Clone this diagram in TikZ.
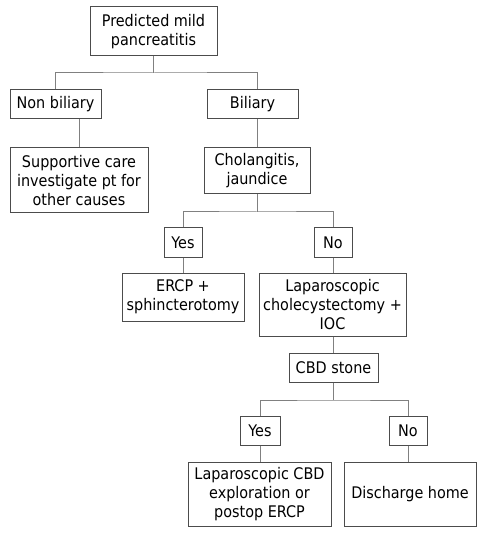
\documentclass[tikz,border=0pt]{standalone}
\usepackage{fontspec}
\setmainfont{DejaVu Sans Condensed}
\begin{document}
\begin{tikzpicture}[x=0.75pt,y=-0.75pt,
  box/.style={draw=black!70,line width=0.75pt,inner sep=0pt,align=center,
    font=\fontsize{12}{14.2}\selectfont,text=black},
  conn/.style={draw=black!50,line width=0.75pt}]
\useasboundingbox (0,0) rectangle (481,534);
\fill[white] (0,0) rectangle (481,534);
\newcommand{\bx}[6]{\node[box,minimum width=#4*0.75pt,minimum height=#5*0.75pt] (#1) at (#2,#3) {#6};}
\bx{top}{153.5}{31.5}{127}{49}{Predicted mild\\pancreatitis}
\bx{nonb}{55.5}{104.5}{91}{29}{Non biliary}
\bx{bil}{252.5}{104.5}{91}{29}{Biliary}
\bx{supp}{79}{180.5}{138}{65}{Supportive care\\investigate pt for\\other causes}
\bx{chol}{257}{171}{106}{46}{Cholangitis,\\jaundice}
\bx{yesa}{183}{242.5}{38}{29}{Yes}
\bx{noa}{333}{242.5}{38}{29}{No}
\bx{ercp}{183}{297}{122}{48}{ERCP +\\sphincterotomy}
\bx{lap}{332.5}{304.5}{147}{63}{Laparoscopic\\cholecystectomy +\\IOC}
\bx{cbd}{333.5}{367.5}{89}{29}{CBD stone}
\bx{yesb}{260}{430.5}{40}{29}{Yes}
\bx{nob}{408}{430.5}{38}{29}{No}
\bx{lcbd}{259.5}{494}{143}{64}{Laparoscopic CBD\\exploration or\\postop ERCP}
\bx{dis}{410}{494}{132}{64}{Discharge home}
\coordinate (ja) at (153.5,73);
\coordinate (jb) at (257,212);
\coordinate (jc) at (333,400);
\draw[conn] (top.south) -- (ja);
\draw[conn] (nonb.north) |- (ja) -| (bil.north -| chol.north);
\draw[conn] (nonb.south -| supp.north) -- (supp.north);
\draw[conn] (bil.south -| chol.north) -- (chol.north);
\draw[conn] (chol.south) -- (jb);
\draw[conn] (yesa.north) |- (jb) -| (noa.north);
\draw[conn] (yesa.south) -- (ercp.north);
\draw[conn] (noa.south) -- (noa.south |- lap.north);
\draw[conn] (lap.south -| noa.south) -- (noa.south |- cbd.north);
\draw[conn] (noa.south |- cbd.south) -- (jc);
\draw[conn] (yesb.north) |- (jc) -| (nob.north);
\draw[conn] (yesb.south) -- (yesb.south |- lcbd.north);
\draw[conn] (nob.south) -- (nob.south |- dis.north);
\end{tikzpicture}
\end{document}
